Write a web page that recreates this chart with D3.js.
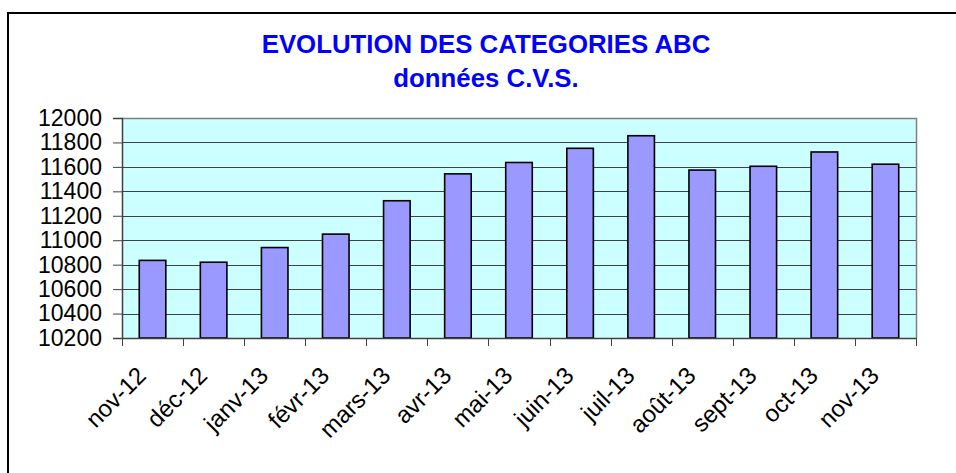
<!DOCTYPE html>
<html>
<head>
<meta charset="utf-8">
<script src="https://cdn.jsdelivr.net/npm/d3@7"></script>
<style>
  html, body { margin: 0; padding: 0; background: #ffffff; }
  svg { display: block; }
  text { font-family: "Liberation Sans", Arial, sans-serif; }
</style>
</head>
<body>
<svg id="chart" width="956" height="473"></svg>
<script>
const categories = ["nov-12","déc-12","janv-13","févr-13","mars-13","avr-13","mai-13","juin-13","juil-13","août-13","sept-13","oct-13","nov-13"];
const values = [10835, 10820, 10940, 11050, 11323, 11543, 11636, 11752, 11855, 11574, 11605, 11722, 11622];
const yTicks = [10200, 10400, 10600, 10800, 11000, 11200, 11400, 11600, 11800, 12000];
const titleLines = ["EVOLUTION DES CATEGORIES ABC", "données C.V.S."];

const svg = d3.select("#chart");
const plot = { left: 122, right: 916, top: 118, bottom: 338 };

// outer frame
svg.append("rect")
  .attr("x", 8).attr("y", 13)
  .attr("width", 960).attr("height", 500)
  .attr("fill", "#ffffff")
  .attr("stroke", "#000000").attr("stroke-width", 2);

// titles
svg.append("text")
  .attr("x", 486).attr("y", 53)
  .attr("text-anchor", "middle")
  .attr("font-size", 25.8).attr("font-weight", "bold")
  .attr("fill", "#0000FF")
  .text(titleLines[0]);
svg.append("text")
  .attr("x", 486).attr("y", 87)
  .attr("text-anchor", "middle")
  .attr("font-size", 25.8).attr("font-weight", "bold")
  .attr("fill", "#0000FF")
  .text(titleLines[1]);

const x = d3.scaleBand().domain(categories).range([plot.left, plot.right]).padding(0);
const y = d3.scaleLinear().domain([10200, 12000]).range([plot.bottom, plot.top]);

// plot background
svg.append("rect")
  .attr("x", plot.left).attr("y", plot.top)
  .attr("width", plot.right - plot.left).attr("height", plot.bottom - plot.top)
  .attr("fill", "#CCFFFF");

// gridlines
svg.append("g").selectAll("line")
  .data(yTicks.filter(t => t !== 10200 && t !== 12000))
  .join("line")
  .attr("x1", plot.left).attr("x2", plot.right)
  .attr("y1", d => Math.round(y(d)) + 0.5).attr("y2", d => Math.round(y(d)) + 0.5)
  .attr("stroke", "#404040").attr("stroke-width", 1);

// plot border top/right
svg.append("path")
  .attr("d", `M${plot.left},${plot.top + 0.5}H${plot.right + 0.5}V${plot.bottom}`)
  .attr("fill", "none").attr("stroke", "#808080").attr("stroke-width", 1.5);

// bars
const bw = x.bandwidth() / 2.3;
svg.append("g").selectAll("rect")
  .data(categories.map((c, i) => ({ c, v: values[i] })))
  .join("rect")
  .attr("x", d => x(d.c) + (x.bandwidth() - bw) / 2)
  .attr("y", d => y(d.v))
  .attr("width", bw)
  .attr("height", d => y(10200) - y(d.v))
  .attr("fill", "#9999FF")
  .attr("stroke", "#000000").attr("stroke-width", 1.6);

// y axis
const yAxis = d3.axisLeft(y).tickValues(yTicks).tickSize(9).tickPadding(11).tickFormat(d3.format("d"));
const gy = svg.append("g").attr("transform", `translate(${plot.left},0)`).call(yAxis);
gy.select(".domain").attr("stroke", "#404040").attr("stroke-width", 1.5);
gy.selectAll(".tick line").attr("stroke", "#404040");
gy.selectAll(".tick text").attr("font-size", 23).attr("fill", "#000000")
  .attr("font-family", "'Liberation Sans', Arial, sans-serif");

// x axis (ticks at category boundaries)
const gx = svg.append("g").attr("transform", `translate(0,${plot.bottom})`);
gx.append("line").attr("x1", plot.left).attr("x2", plot.right + 0.5)
  .attr("y1", 0.5).attr("y2", 0.5).attr("stroke", "#404040").attr("stroke-width", 1.5);
const boundaries = categories.map(c => x(c)).concat([plot.right]);
gx.selectAll("line.tk").data(boundaries).join("line").attr("class", "tk")
  .attr("x1", d => Math.round(d) + 0.5).attr("x2", d => Math.round(d) + 0.5)
  .attr("y1", 0).attr("y2", 8)
  .attr("stroke", "#404040").attr("stroke-width", 1);
gx.selectAll("text").data(categories).join("text")
  .attr("transform", d => `translate(${x(d) + x.bandwidth() / 2 - 5},39) rotate(-45)`)
  .attr("text-anchor", "end")
  .attr("font-size", 24).attr("fill", "#000000")
  .text(d => d);
</script>
</body>
</html>
